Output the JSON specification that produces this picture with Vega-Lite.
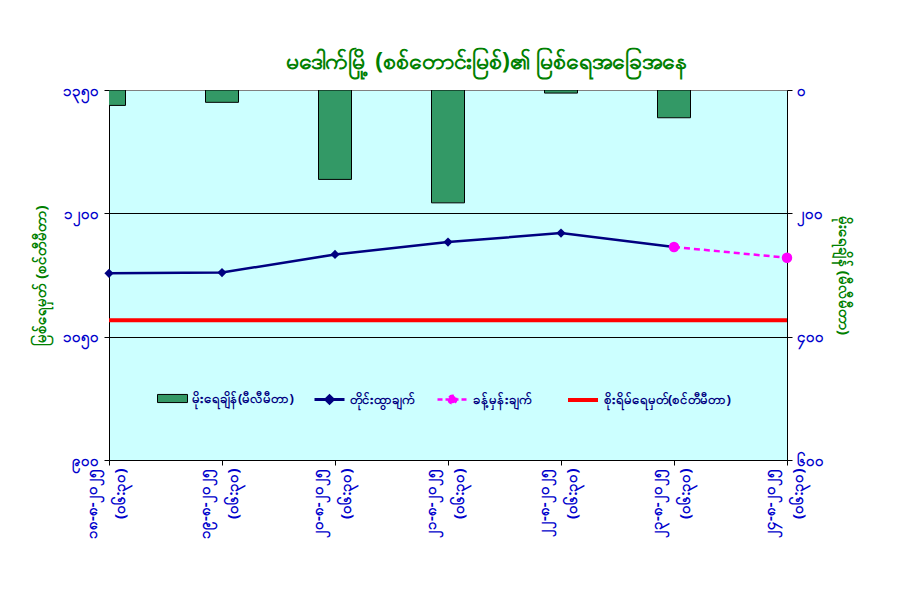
{
  "$schema": "https://vega.github.io/schema/vega-lite/v6.json",
  "width": 678,
  "height": 370,
  "autosize": {"type": "none"},
  "padding": {"left": 109, "top": 90, "right": 121, "bottom": 144},
  "background": "white",
  "title": {
    "text": "မဒေါက်မြို့ (စစ်တောင်းမြစ်)၏ မြစ်ရေအခြေအနေ",
    "color": "#008000",
    "fontSize": 23,
    "fontWeight": "bold",
    "dx": 38,
    "offset": 9
  },
  "data": {
    "values": [
      {"date": "၁၈-၈-၂၀၂၅ (၀၆:၃၀)", "rain": 25, "level": 1127, "forecast": null, "danger": 1070},
      {"date": "၁၉-၈-၂၀၂၅ (၀၆:၃၀)", "rain": 20, "level": 1128, "forecast": null, "danger": null},
      {"date": "၂၀-၈-၂၀၂၅ (၀၆:၃၀)", "rain": 145, "level": 1150, "forecast": null, "danger": null},
      {"date": "၂၁-၈-၂၀၂၅ (၀၆:၃၀)", "rain": 183, "level": 1165, "forecast": null, "danger": null},
      {"date": "၂၂-၈-၂၀၂၅ (၀၆:၃၀)", "rain": 5, "level": 1176, "forecast": null, "danger": null},
      {"date": "၂၃-၈-၂၀၂၅ (၀၆:၃၀)", "rain": 45, "level": 1159, "forecast": 1159, "danger": null},
      {"date": "၂၄-၈-၂၀၂၅ (၀၆:၃၀)", "rain": null, "level": null, "forecast": 1146, "danger": null}
    ]
  },
  "layer": [
    {
      "mark": {"type": "bar", "size": 33, "clip": true, "stroke": "black", "strokeWidth": 1, "opacity": 1},
      "encoding": {
        "x": {
          "field": "date", "type": "nominal", "sort": null,
          "scale": {"type": "point", "padding": 0},
          "axis": {
            "title": null,
            "labelExpr": "split(datum.label, ' ')",
            "labelAngle": -90,
            "labelColor": "#0000CC",
            "labelFontSize": 15,
            "labelFontWeight": "bold",
            "labelLineHeight": 28,
            "labelPadding": 3,
            "labelOffset": -18,
            "domainColor": "black",
            "tickColor": "black",
            "tickSize": 5,
            "grid": false
          }
        },
        "y": {
          "field": "rain", "type": "quantitative",
          "scale": {"domain": [0, 600], "reverse": true, "nice": false},
          "axis": {
            "orient": "right",
            "values": [0, 200, 400, 600],
            "labelExpr": "{'0':'၀','200':'၂၀၀','400':'၄၀၀','600':'၆၀၀'}[datum.value]",
            "title": "မိုးရေချိန် (မီလီမီတာ)",
            "titleColor": "#008000",
            "titleFontSize": 15,
            "titleFontWeight": "bold",
            "titlePadding": 12,
            "labelColor": "#0000CC",
            "labelFontSize": 15,
            "labelFontWeight": "bold",
            "labelPadding": 4,
            "domainColor": "black",
            "tickColor": "black",
            "tickSize": 5,
            "grid": false
          }
        },
        "color": {
          "datum": "မိုးရေချိန်(မီလီမီတာ)",
          "scale": {
            "domain": ["မိုးရေချိန်(မီလီမီတာ)", "တိုင်းထွာချက်", "ခန့်မှန်းချက်", "စိုးရိမ်ရေမှတ်(စင်တီမီတာ)"],
            "range": ["#339966", "#000080", "#FF00FF", "#FF0000"]
          },
          "legend": {
            "values": ["မိုးရေချိန်(မီလီမီတာ)"],
            "legendX": 48,
            "legendY": 293,
            "symbolType": "M-1,-0.27L1,-0.27L1,0.27L-1,0.27Z",
            "symbolFillColor": "#339966",
            "symbolStrokeColor": "#000000",
            "symbolStrokeWidth": 1
          }
        }
      }
    },
    {
      "layer": [
        {
          "mark": {"type": "line", "strokeWidth": 2.5, "point": {"shape": "diamond", "size": 85, "filled": true}},
          "encoding": {
            "x": {"field": "date", "type": "nominal", "sort": null},
            "y": {
              "field": "level", "type": "quantitative",
              "scale": {"domain": [900, 1350], "nice": false, "zero": false},
              "axis": {
                "orient": "left",
                "values": [900, 1050, 1200, 1350],
                "labelExpr": "{'900':'၉၀၀','1050':'၁၀၅၀','1200':'၁၂၀၀','1350':'၁၃၅၀'}[datum.value]",
                "title": "မြစ်ရေမှတ် (စင်တီမီတာ)",
                "titleColor": "#008000",
                "titleFontSize": 15,
                "titleFontWeight": "bold",
                "titlePadding": 14,
                "labelColor": "#0000CC",
                "labelFontSize": 15,
                "labelFontWeight": "bold",
                "labelPadding": 6,
                "domainColor": "black",
                "tickColor": "black",
                "tickSize": 5,
                "grid": true,
                "gridColor": {"condition": {"test": "datum.value == 1200 || datum.value == 1050", "value": "black"}, "value": "transparent"},
                "gridWidth": 1
              }
            },
            "color": {
              "datum": "တိုင်းထွာချက်",
              "legend": {
                "values": ["တိုင်းထွာချက်"],
                "legendX": 204,
                "legendY": 293,
                "symbolType": "M-1,0L1,0M-0.25,0L0,-0.25L0.25,0L0,0.25Z",
                "symbolFillColor": "#000080",
                "symbolStrokeColor": "#000080",
                "symbolStrokeWidth": 3
              }
            }
          }
        },
        {
          "mark": {"type": "line", "strokeWidth": 2.5, "strokeDash": [6, 4], "point": {"shape": "circle", "size": 110, "filled": true}},
          "encoding": {
            "x": {"field": "date", "type": "nominal", "sort": null},
            "y": {"field": "forecast", "type": "quantitative"},
            "color": {
              "datum": "ခန့်မှန်းချက်",
              "legend": {
                "values": ["ခန့်မှန်းချက်"],
                "legendX": 327,
                "legendY": 293,
                "symbolType": "M-1,0L1,0M-0.25,0A0.25,0.25,0,1,0,0.25,0A0.25,0.25,0,1,0,-0.25,0Z",
                "symbolFillColor": "#FF00FF",
                "symbolStrokeColor": "#FF00FF",
                "symbolStrokeWidth": 2.5,
                "symbolDash": [5, 3]
              }
            }
          }
        },
        {
          "mark": {"type": "rule", "strokeWidth": 4},
          "encoding": {
            "y": {"field": "danger", "type": "quantitative"},
            "color": {
              "datum": "စိုးရိမ်ရေမှတ်(စင်တီမီတာ)",
              "legend": {
                "values": ["စိုးရိမ်ရေမှတ်(စင်တီမီတာ)"],
                "legendX": 457,
                "legendY": 293,
                "symbolType": "M-1,0L1,0",
                "symbolStrokeColor": "#FF0000",
                "symbolStrokeWidth": 4
              }
            }
          }
        }
      ],
      "resolve": {"legend": {"color": "independent"}}
    }
  ],
  "resolve": {"scale": {"y": "independent"}, "legend": {"color": "independent"}},
  "config": {
    "font": "Noto Sans",
    "view": {"fill": "#CCFFFF", "stroke": "#808080"},
    "legend": {
      "title": null,
      "orient": "none",
      "direction": "horizontal",
      "symbolSize": 900,
      "symbolOpacity": 1,
      "labelColor": "#000080",
      "labelFontSize": 13,
      "labelFontWeight": "bold",
      "labelOffset": 4
    }
  }
}
